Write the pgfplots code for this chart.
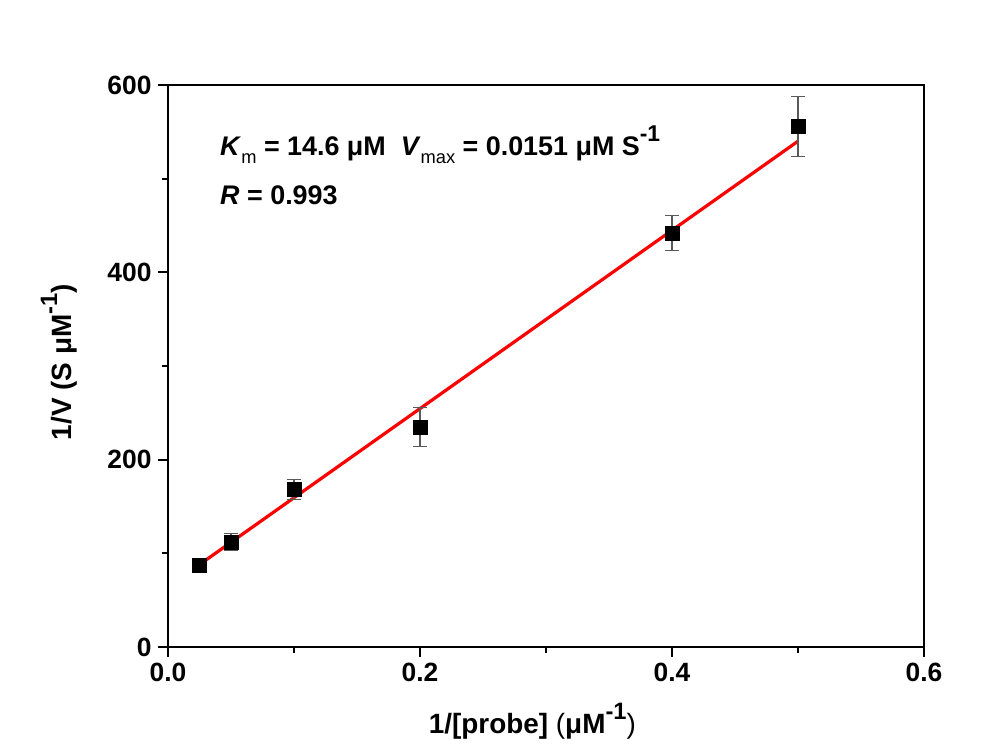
\documentclass[border=0pt]{standalone}
\usepackage{pgfplots}
\pgfplotsset{compat=1.18}
\usepackage{fontspec}
\setmainfont{Liberation Sans}
\newcommand\sups[1]{\raisebox{0.5em}{\scalebox{0.85}{#1}}}
\newcommand\subs[1]{\raisebox{-0.3em}{\scalebox{0.68}{\mdseries #1}}}
\begin{document}
\begin{tikzpicture}
\useasboundingbox (-168bp,-107bp) rectangle (819bp,647bp);
\fill[white] (-168bp,-107bp) rectangle (819bp,647bp);
\begin{axis}[
  at={(0,0)}, anchor=south west,
  scale only axis, width=756bp, height=562bp,
  xmin=0, xmax=0.6, ymin=0, ymax=600,
  xtick={0,0.2,0.4,0.6}, ytick={0,200,400,600},
  minor tick num=1,
  xtick pos=bottom, ytick pos=left,
  tick align=outside,
  major tick length=10bp, minor tick length=6bp,
  every tick/.style={black, line width=1.8bp},
  axis line style={line width=2.6bp},
  /pgf/number format/assume math mode=true,
  xticklabel style={/pgf/number format/.cd, fixed, fixed zerofill, precision=1},
  yticklabel style={/pgf/number format/.cd, fixed, precision=0},
  ticklabel style={font=\bfseries\fontsize{26.5}{26.5}\selectfont},
  xticklabel shift=3bp, yticklabel shift=3bp,
  xlabel={\bfseries 1/[probe] \mdseries(\bfseries μM\sups{-1}\mdseries)},
  ylabel={\bfseries 1/V (S μM\sups{-1})},
  label style={font=\fontsize{28}{28}\selectfont},
  xlabel style={at={(axis description cs:0.482,0)}, anchor=base, yshift=-86bp},
  ylabel style={at={(axis description cs:-0.1283,0.507)}, anchor=base},
  clip=false,
]
\addplot[red, line width=3.2bp] coordinates {(0.025,88) (0.5,540)};
\addplot[only marks, mark=square*, mark size=7bp, mark options={black},
  error bars/.cd, y dir=both, y explicit,
  error bar style={gray!70!black, line width=1.1bp},
  error mark options={rotate=90, mark size=7bp, gray!70!black, line width=1.1bp}]
  coordinates {
  (0.025,87) +- (0,6)
  (0.05,112) +- (0,9)
  (0.1,168) +- (0,11)
  (0.2,235) +- (0,21)
  (0.4,442) +- (0,19)
  (0.5,556) +- (0,32)
};
\node[anchor=base west, font=\bfseries\fontsize{27}{27}\selectfont, inner sep=0pt] at (axis cs:0.0413,525) {\textit{K}\subs{m} = 14.6 μM\ \ \textit{V}\subs{max} = 0.0151 μM S\sups{-1}};
\node[anchor=base west, font=\bfseries\fontsize{27}{27}\selectfont, inner sep=0pt] at (axis cs:0.0413,472) {\textit{R} = 0.993};
\end{axis}
\end{tikzpicture}
\end{document}
